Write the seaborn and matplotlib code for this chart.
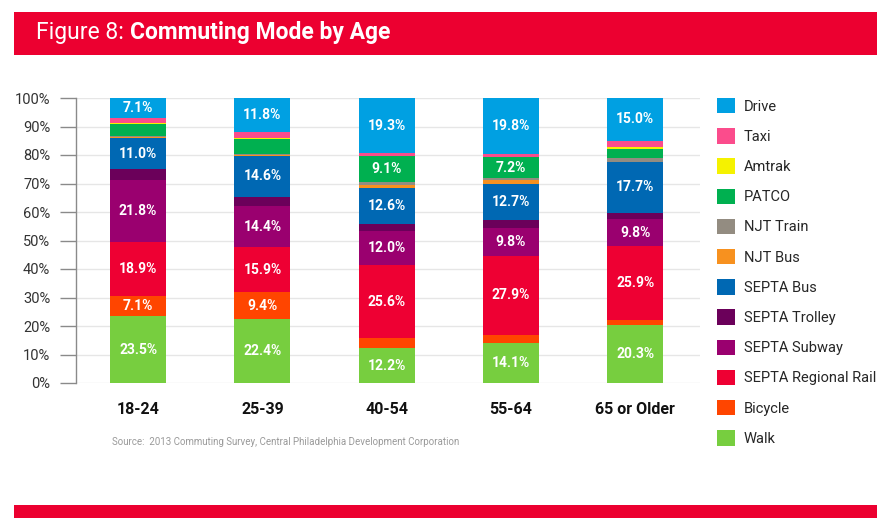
import matplotlib
matplotlib.use("Agg")
import matplotlib.pyplot as plt
import seaborn as sns
import pandas as pd
import numpy as np
from matplotlib.patches import Rectangle, Patch

# ---- data ----
ages = ["18-24", "25-39", "40-54", "55-64", "65 or Older"]
modes = ["Drive", "Taxi", "Amtrak", "PATCO", "NJT Train", "NJT Bus", "SEPTA Bus",
         "SEPTA Trolley", "SEPTA Subway", "SEPTA Regional Rail", "Bicycle", "Walk"]
drive = [7.1, 11.8, 19.3, 19.8, 15.0]
taxi = [1.6, 2.2, 0.9, 0.8, 2.3]
amtrak = [0.3, 0.4, 0.3, 0.2, 0.5]
patco = [4.4, 5.2, 9.1, 7.2, 3.3]
njt_train = [0.3, 0.3, 1.0, 0.9, 1.4]
njt_bus = [0.3, 0.3, 0.9, 1.2, 0.0]
septa_bus = [11.0, 14.6, 12.6, 12.7, 17.7]
septa_trolley = [3.7, 3.1, 2.6, 2.7, 2.1]
septa_subway = [21.8, 14.4, 12.0, 9.8, 9.8]
septa_rail = [18.9, 15.9, 25.6, 27.9, 25.9]
bicycle = [7.1, 9.4, 3.5, 2.7, 1.7]
walk = [23.5, 22.4, 12.2, 14.1, 20.3]
yticks = [0, 10, 20, 30, 40, 50, 60, 70, 80, 90, 100]
ytick_labels = ["0%", "10%", "20%", "30%", "40%", "50%", "60%", "70%", "80%", "90%", "100%"]

series = [drive, taxi, amtrak, patco, njt_train, njt_bus, septa_bus,
          septa_trolley, septa_subway, septa_rail, bicycle, walk]
colors = ["#00A0E2", "#FB4C8C", "#F5F200", "#00B050", "#938C81", "#F7911F",
          "#0068B3", "#6B005A", "#9A006F", "#EE0033", "#FF4500", "#77CE3F"]
palette = dict(zip(modes, colors))

rows = []
for m, vals in zip(modes, series):
    for i, v in enumerate(vals):
        rows.append({"pos": i, "mode": m, "value": v})
df = pd.DataFrame(rows)

sns.set_theme(style="white")
plt.rcParams["font.family"] = ["Roboto", "DejaVu Sans"]

W, H = 889, 518
fig = plt.figure(figsize=(W / 100, H / 100), dpi=100)
ax = fig.add_axes([76 / W, 1 - 383 / H, (700 - 76) / W, (383 - 98) / H])
ax.set_axisbelow(True)
ax.yaxis.grid(True, color="#e6e6e6", linewidth=1)

sns.histplot(data=df, x="pos", weights="value", hue="mode", hue_order=modes,
             multiple="stack", discrete=True, shrink=0.45, palette=palette,
             alpha=1, linewidth=0, edgecolor="none", legend=False, ax=ax)

# labels
for i in range(len(ages)):
    base = 0.0
    for m, vals in zip(modes[::-1], series[::-1]):
        v = vals[i]
        if v >= 7.0:
            ax.text(i, base + v / 2, f"{v:.1f}%", ha="center", va="center",
                    color="white", fontsize=10, fontweight="bold")
        base += v

ax.set_xlim(-0.5, 4.52)
ax.set_ylim(0, 100)
ax.set_xticks(range(len(ages)))
ax.set_xticklabels(ages, fontsize=11.5, fontweight="bold", color="#111111")
ax.set_yticks(yticks)
ax.set_yticklabels(ytick_labels, fontsize=10.5, color="#333333")
ax.tick_params(axis="x", length=0, pad=14)
ax.tick_params(axis="y", length=11.5, width=1, color="#8a8a8a", pad=7, left=True)
ax.set_xlabel("")
ax.set_ylabel("")
for s in ["top", "right", "bottom"]:
    ax.spines[s].set_visible(False)
ax.spines["left"].set_color("#8a8a8a")
ax.spines["left"].set_linewidth(1)

# title bar
fig.patches.append(Rectangle((14 / W, 1 - 55 / H), 863 / W, 43 / H,
                             transform=fig.transFigure, facecolor="#EC0030",
                             edgecolor="none", zorder=0))
fig.patches.append(Rectangle((14 / W, 0), 863 / W, 13 / H,
                             transform=fig.transFigure, facecolor="#EC0030",
                             edgecolor="none", zorder=0))
t1 = fig.text(36 / W, 1 - 33 / H, "Figure 8: ", color="white", fontsize=16.5,
              va="center", ha="left")
fig.canvas.draw()
bb = t1.get_window_extent()
fig.text(bb.x1 / W, 1 - 33 / H, "Commuting Mode by Age", color="white",
         fontsize=16.5, fontweight="bold", va="center", ha="left")

fig.text(112 / W, 1 - 442 / H,
         "Source:  2013 Commuting Survey, Central Philadelphia Development Corporation",
         fontsize=7, color="#9a9a9a", va="center", ha="left")

handles = [Patch(facecolor=c, edgecolor="none") for c in colors]
fig.legend(handles, modes, loc="upper left", bbox_to_anchor=(717 / W, 1 - 98 / H),
           frameon=False, fontsize=10.5, handlelength=1.25, handleheight=1.25,
           handletextpad=0.6, labelspacing=1.0, borderpad=0, borderaxespad=0)

fig.savefig("out.png", dpi=100)
